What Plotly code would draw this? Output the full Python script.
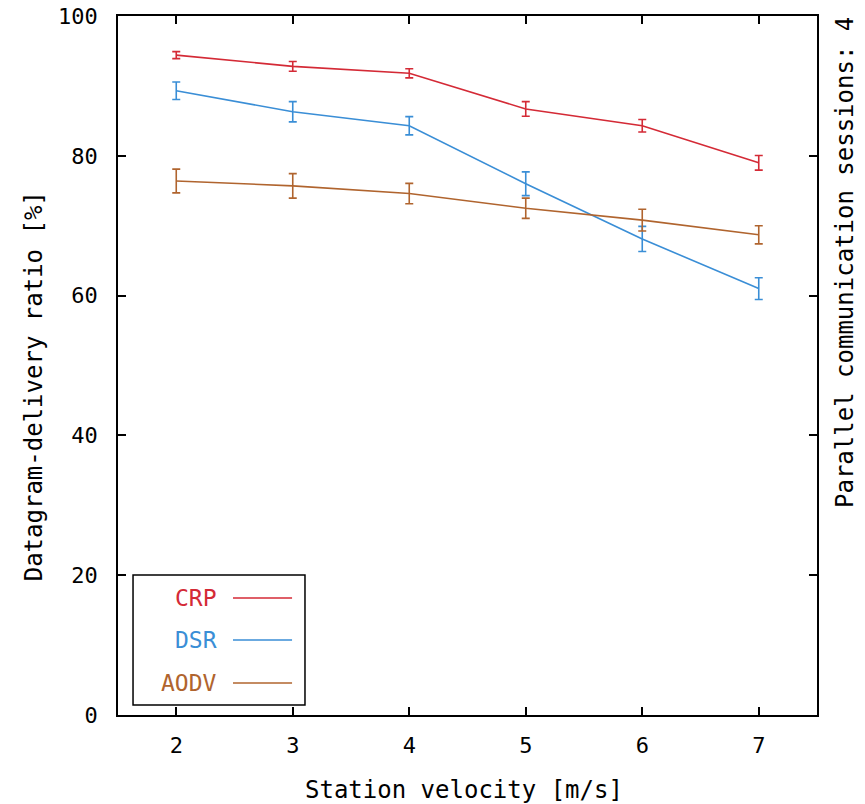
import plotly.graph_objects as go

velocity = [2, 3, 4, 5, 6, 7]
crp = [94.4, 92.8, 91.8, 86.7, 84.3, 79.0]
crp_err = [0.5, 0.7, 0.65, 1.05, 0.9, 1.05]
dsr = [89.3, 86.3, 84.3, 76.0, 68.1, 61.0]
dsr_err = [1.25, 1.45, 1.3, 1.7, 1.8, 1.55]
aodv = [76.4, 75.7, 74.6, 72.5, 70.8, 68.7]
aodv_err = [1.7, 1.75, 1.45, 1.45, 1.55, 1.3]

names = ["CRP", "DSR", "AODV"]
colors = ["#d42a36", "#3a8ed6", "#b0642e"]
series = [crp, dsr, aodv]
errors = [crp_err, dsr_err, aodv_err]

FONT = "DejaVu Sans Mono"

fig = go.Figure()
for name, col, ys, es in zip(names, colors, series, errors):
    fig.add_trace(go.Scatter(
        x=velocity, y=ys, mode="lines", name=name,
        line=dict(color=col, width=1.6),
        error_y=dict(type="data", array=es, visible=True, color=col,
                     thickness=1.6, width=4),
        showlegend=False,
    ))

# custom legend (gnuplot style: text right-aligned, line sample to the right)
fig.add_shape(type="rect", xref="paper", yref="paper",
              x0=0.0215, x1=0.2675, y0=0.0143, y1=0.2003,
              line=dict(color="black", width=1.5), fillcolor="white", layer="above")
row_y = [0.1674, 0.1073, 0.0458]
for name, col, yy in zip(names, colors, row_y):
    fig.add_annotation(xref="paper", yref="paper", x=0.145, y=yy, text=name,
                       showarrow=False, xanchor="right", yanchor="middle",
                       font=dict(family=FONT, size=23, color=col))
    fig.add_shape(type="line", xref="paper", yref="paper",
                  x0=0.1645, x1=0.249, y0=yy, y1=yy,
                  line=dict(color=col, width=1.6), layer="above")

# right-side label
fig.add_annotation(xref="paper", yref="paper", x=1.040, y=0.648,
                   text="Parallel communication sessions: 4", textangle=-90,
                   showarrow=False, xanchor="center", yanchor="middle",
                   font=dict(family=FONT, size=24, color="black"))
# y-axis title
fig.add_annotation(xref="paper", yref="paper", x=-0.119, y=0.470,
                   text="Datagram-delivery ratio [%]", textangle=-90,
                   showarrow=False, xanchor="center", yanchor="middle",
                   font=dict(family=FONT, size=24, color="black"))
# x-axis title
fig.add_annotation(xref="paper", yref="paper", x=0.495, y=-0.107,
                   text="Station velocity [m/s]",
                   showarrow=False, xanchor="center", yanchor="middle",
                   font=dict(family=FONT, size=24, color="black"))

axis_common = dict(showgrid=False, zeroline=False, showline=True,
                   linecolor="black", linewidth=1.5, mirror="ticks",
                   ticks="inside", ticklen=8, tickwidth=1.5, tickcolor="black",
                   automargin=False,
                   tickfont=dict(family=FONT, size=22, color="black"))

fig.update_xaxes(range=[1.5, 7.5], tickvals=velocity, ticklabelstandoff=10,
                 **axis_common)
fig.update_yaxes(range=[0, 100], tickvals=[0, 20, 40, 60, 80, 100],
                 ticklabelstandoff=14, **axis_common)

fig.update_layout(width=865, height=804,
                  margin=dict(l=118, r=48, t=16, b=89),
                  plot_bgcolor="white", paper_bgcolor="white")

fig.write_html("out.html", config={"displayModeBar": False},
               post_script="document.body.style.margin='0';document.body.style.overflow='hidden';")
